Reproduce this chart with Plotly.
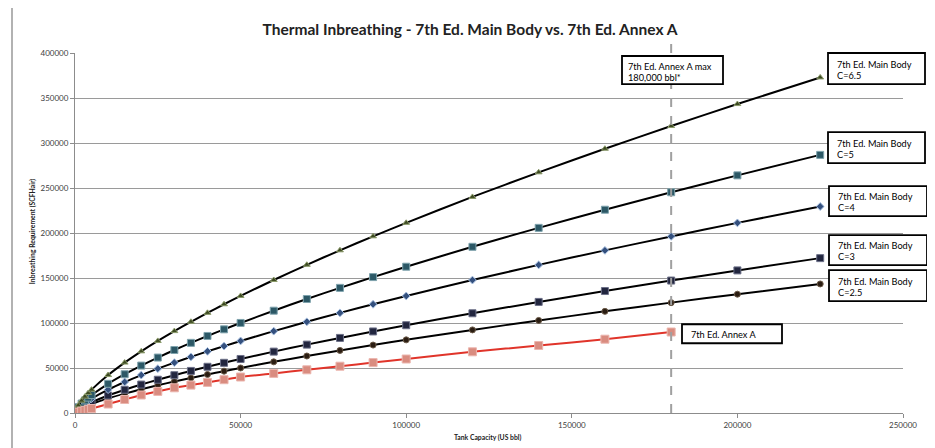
import plotly.graph_objects as go

capacity = [60, 100, 500, 1000, 2000, 3000, 4000, 5000, 10000, 15000, 20000, 25000,
            30000, 35000, 40000, 45000, 50000, 60000, 70000, 80000, 90000, 100000,
            120000, 140000, 160000, 180000, 200000, 225000]

main_c65 = [1174, 1678, 5179, 8413, 13665, 18155, 22198, 25953, 42163, 56002, 68497, 80077,
            90989, 101333, 111275, 120837, 130072, 147786, 164651, 180755, 196311, 211305,
            240064, 267427, 293627, 318858, 343268, 372829]
main_c5 = [903, 1291, 3984, 6471, 10511, 13965, 17075, 19964, 32433, 43078, 52690, 61598,
           69991, 77948, 85596, 92952, 100055, 113681, 126655, 139042, 151008, 162542,
           184665, 205713, 225867, 245276, 264052, 286791]
main_c4 = [722, 1033, 3187, 5177, 8409, 11172, 13660, 15971, 25947, 34463, 42152, 49278,
           55993, 62358, 68477, 74361, 80044, 90945, 101324, 111234, 120806, 130034,
           147732, 164570, 180694, 196221, 211242, 229433]
main_c3 = [542, 775, 2390, 3883, 6307, 8379, 10245, 11978, 19460, 25847, 31614, 36959,
           41995, 46769, 51358, 55771, 60033, 68209, 75993, 83425, 90605, 97525,
           110799, 123428, 135520, 147166, 158431, 172075]
main_c25 = [452, 646, 1992, 3236, 5256, 6983, 8538, 9982, 16217, 21539, 26345, 30799,
            34996, 38974, 42798, 46476, 50028, 56841, 63327, 69521, 75504, 81271,
            92332, 102857, 112934, 122638, 132026, 143396]

annex_capacity = [60, 100, 500, 1000, 2000, 3000, 4000, 5000, 10000, 15000, 20000, 25000,
                  30000, 35000, 40000, 45000, 50000, 60000, 70000, 80000, 90000, 100000,
                  120000, 140000, 160000, 180000]
annex_a = [60, 100, 500, 1000, 2000, 3000, 4000, 5000, 10000, 15000, 20000, 24000,
           28000, 31000, 34000, 37000, 40000, 44000, 48000, 52000, 56000, 60000,
           68000, 75000, 82000, 90000]

annex_max = 180000

x_ticks = [0, 50000, 100000, 150000, 200000, 250000]
y_ticks = [0, 50000, 100000, 150000, 200000, 250000, 300000, 350000, 400000]

FONT = "Lato"

# The page body adds an 8px offset; the figure is sized so it fills the window.
W, H = 927, 440
PL, PT, PW, PH = 67, 45, 828, 359.7   # plot area in figure pixels


def px_x(x_ref):
    """Convert a window pixel x to paper coordinates."""
    return (x_ref - 8 - PL) / PW


def px_y(y_ref):
    """Convert a window pixel y to paper coordinates."""
    return (PT + PH - (y_ref - 8)) / PH


fig = go.Figure()

series = [
    ("7th Ed. Main Body C=2.5", main_c25, "circle", 6, "#2b1d12", "#6b5a48"),
    ("7th Ed. Main Body C=3", main_c3, "square", 7, "#22263f", "#6c7088"),
    ("7th Ed. Main Body C=4", main_c4, "diamond", 6, "#34507e", "#a8c0e0"),
    ("7th Ed. Main Body C=5", main_c5, "square", 7, "#2c5866", "#7fa3ad"),
    ("7th Ed. Main Body C=6.5", main_c65, "triangle-up", 6, "#3d4a22", "#8b9a6a"),
]
for name, vals, sym, size, fill, edge in series:
    fig.add_trace(go.Scatter(
        x=capacity, y=vals, name=name, mode="lines+markers",
        line=dict(color="black", width=2, shape="spline", smoothing=0.6),
        marker=dict(symbol=sym, size=size, color=fill, line=dict(color=edge, width=1)),
        showlegend=False,
    ))

fig.add_trace(go.Scatter(
    x=annex_capacity, y=annex_a, name="7th Ed. Annex A", mode="lines+markers",
    line=dict(color="#e0342a", width=2, shape="spline", smoothing=0.6),
    marker=dict(symbol="square", size=8, color="#d98c80", line=dict(color="#ebb6ae", width=1)),
    showlegend=False,
))

# Dashed vertical line at the Annex A max capacity
fig.add_shape(type="line", xref="x", yref="paper", x0=annex_max, x1=annex_max,
              y0=0, y1=px_y(40), line=dict(color="#a0a0a0", width=2, dash="dash"))

# Chart area side borders
for xb in (12, 928):
    fig.add_shape(type="line", xref="paper", yref="paper", layer="above",
                  x0=px_x(xb), x1=px_x(xb), y0=px_y(448), y1=px_y(0),
                  line=dict(color="#7f7f7f", width=1.2))

box_font = dict(family=FONT, size=9.2, color="black")


def box(lines, x0, y0, x1, y1, tx, ty):
    fig.add_shape(type="rect", xref="paper", yref="paper", layer="above",
                  x0=px_x(x0), x1=px_x(x1), y0=px_y(y1), y1=px_y(y0),
                  fillcolor="white", line=dict(color="black", width=1.8))
    for i, t in enumerate(lines):
        fig.add_annotation(text=t, xref="paper", yref="paper",
                           x=px_x(tx), y=px_y(ty[i]), xanchor="left", yanchor="middle",
                           showarrow=False, font=box_font)


box(["7th Ed. Annex A max", "180,000 bbl*"], 622, 56, 723, 84, 626, [66.5, 77.5])
box(["7th Ed. Main Body", "C=6.5"], 828, 53, 925, 84, 835, [64, 75])
box(["7th Ed. Main Body", "C=5"], 828, 132, 925, 163, 835, [143, 154])
box(["7th Ed. Main Body", "C=4"], 829, 186, 927, 216, 836, [196, 207.5])
box(["7th Ed. Main Body", "C=3"], 829, 235, 927, 265, 836, [245, 256.5])
box(["7th Ed. Main Body", "C=2.5"], 829, 270, 927, 301, 836, [281, 292.5])
box(["7th Ed. Annex A"], 682, 324, 782, 343, 689, [334])

# Axis titles
fig.add_annotation(text="<b>Tank Capacity (US bbl)</b>", xref="paper", yref="paper",
                   x=px_x(487), y=px_y(437), xanchor="center", yanchor="middle",
                   showarrow=False, font=dict(family=FONT, size=6.8, color="#222222"))
fig.add_annotation(text="<b>Inbreathing Requirement (SCFHair)</b>", xref="paper", yref="paper",
                   x=px_x(32), y=px_y(232), xanchor="center", yanchor="middle", textangle=-90,
                   showarrow=False, font=dict(family=FONT, size=6.8, color="#222222"))

fig.update_layout(
    width=W, height=H,
    margin=dict(l=PL, r=W - PL - PW, t=PT, b=H - PT - PH, autoexpand=False),
    paper_bgcolor="white", plot_bgcolor="white",
    title=dict(text="<b>Thermal Inbreathing - 7th Ed. Main Body vs. 7th Ed. Annex A</b>",
               x=(470 - 8) / W, xanchor="center", y=1 - (30 - 8) / H, yanchor="middle",
               font=dict(family=FONT, size=15.5, color="#222222")),
    font=dict(family=FONT, size=8, color="#404040"),
)

fig.update_xaxes(
    range=[0, 250000], tickvals=x_ticks, ticktext=[str(v) for v in x_ticks],
    showgrid=False, zeroline=False, showline=True, linecolor="#8c8c8c", linewidth=1,
    ticks="outside", ticklen=4, tickcolor="#8c8c8c", automargin=False,
    tickfont=dict(family=FONT, size=8, color="#404040"),
)
fig.update_yaxes(
    range=[0, 400000], tickvals=y_ticks, ticktext=[str(v) for v in y_ticks],
    showgrid=True, gridcolor="#9a9a9a", gridwidth=1, zeroline=False,
    showline=True, linecolor="#8c8c8c", linewidth=1,
    ticks="outside", ticklen=4, tickcolor="#8c8c8c", automargin=False,
    tickfont=dict(family=FONT, size=8, color="#404040"),
)

fig.write_html("out.html")
